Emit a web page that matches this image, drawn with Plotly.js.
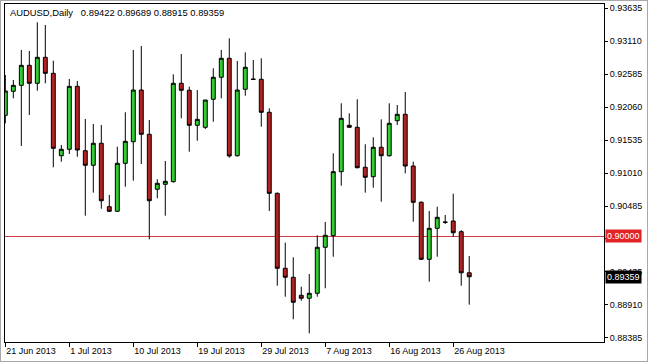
<!DOCTYPE html>
<html>
<head>
<meta charset="utf-8">
<script src="https://cdn.plot.ly/plotly-3.0.1.min.js"></script>
<style>
  html, body { margin: 0; padding: 0; background: #ffffff; }
  #wrap { position: relative; width: 648px; height: 362px; overflow: hidden; }
  #chart { width: 648px; height: 362px; }
  #frame { position: absolute; left: 0; top: 0; width: 646px; height: 360px;
           border: 1px solid #a8a8a8; pointer-events: none; }
</style>
</head>
<body>
<div id="wrap"><div id="chart"></div><div id="frame"></div></div>
<script>
const symbol = 'AUDUSD,Daily';

const dates = [
  '2013-06-21','2013-06-23','2013-06-24','2013-06-25','2013-06-26','2013-06-27','2013-06-28','2013-06-30',
  '2013-07-01','2013-07-02','2013-07-03','2013-07-04','2013-07-05','2013-07-07','2013-07-08','2013-07-09',
  '2013-07-10','2013-07-11','2013-07-12','2013-07-14','2013-07-15','2013-07-16','2013-07-17','2013-07-18',
  '2013-07-19','2013-07-21','2013-07-22','2013-07-23','2013-07-24','2013-07-25','2013-07-26','2013-07-28',
  '2013-07-29','2013-07-30','2013-07-31','2013-08-01','2013-08-02','2013-08-04','2013-08-05','2013-08-06',
  '2013-08-07','2013-08-08','2013-08-09','2013-08-11','2013-08-12','2013-08-13','2013-08-14','2013-08-15',
  '2013-08-16','2013-08-18','2013-08-19','2013-08-20','2013-08-21','2013-08-22','2013-08-23','2013-08-25',
  '2013-08-26','2013-08-27','2013-08-28'
];

const openP = [
  0.91928,0.92310,0.92405,0.92723,0.92437,0.92851,0.92596,0.91285,
  0.91387,0.92389,0.91365,0.91133,0.91483,0.90474,0.90401,0.91164,
  0.91508,0.92330,0.91626,0.90751,0.90830,0.90872,0.92437,0.92326,
  0.91769,0.91737,0.92183,0.92533,0.92835,0.91285,0.92342,0.92505,
  0.92501,0.91976,0.90687,0.89494,0.89351,0.89064,0.89017,0.89096,
  0.89828,0.90013,0.91031,0.91769,0.91737,0.91101,0.90951,0.91419,
  0.91285,0.91842,0.91944,0.91121,0.90544,0.89637,0.90130,0.90231,
  0.90246,0.90076,0.89422
];

const highP = [
  0.92569,0.92490,0.92967,0.92951,0.93408,0.93365,0.92797,0.91456,
  0.92505,0.92474,0.91869,0.91790,0.91774,0.90660,0.91428,0.91976,
  0.92967,0.93031,0.91853,0.90910,0.91201,0.92580,0.92903,0.92383,
  0.92330,0.92171,0.92676,0.92967,0.93153,0.92792,0.92930,0.92808,
  0.92835,0.92039,0.90700,0.89901,0.89669,0.89201,0.89403,0.90019,
  0.90231,0.91323,0.92119,0.91960,0.92183,0.91467,0.91578,0.91864,
  0.92119,0.92092,0.92299,0.91190,0.90560,0.90406,0.90474,0.90342,
  0.90681,0.90100,0.89689
];

const lowP = [
  0.91801,0.92198,0.91440,0.91933,0.92319,0.92437,0.91101,0.91190,
  0.91312,0.91269,0.90331,0.90697,0.90442,0.90390,0.90390,0.90792,
  0.90888,0.91153,0.89955,0.90608,0.90331,0.90856,0.91880,0.91349,
  0.91524,0.91710,0.91826,0.92198,0.91253,0.91270,0.92240,0.92490,
  0.91747,0.90406,0.89217,0.89042,0.88683,0.88978,0.88460,0.89042,
  0.89176,0.89678,0.90808,0.91730,0.91085,0.90697,0.90776,0.90553,
  0.91270,0.91774,0.91005,0.90235,0.89626,0.89281,0.89678,0.90199,
  0.89997,0.89217,0.88915
];

const closeP = [
  0.92315,0.92405,0.92723,0.92437,0.92851,0.92596,0.91403,0.91387,
  0.92389,0.91376,0.91133,0.91483,0.90569,0.90401,0.91164,0.91514,
  0.92330,0.91626,0.90569,0.90846,0.90878,0.92437,0.92326,0.91769,
  0.91864,0.92171,0.92533,0.92835,0.91281,0.92330,0.92692,0.92500,
  0.91976,0.90687,0.89494,0.89351,0.88953,0.89017,0.89096,0.89828,
  0.90019,0.91031,0.91880,0.91737,0.91094,0.90942,0.91419,0.91285,
  0.91801,0.91944,0.91121,0.90544,0.89637,0.90130,0.90305,0.90225,
  0.90060,0.89422,0.89359
];

const tickDates = ['2013-06-21','2013-07-01','2013-07-10','2013-07-19','2013-07-29','2013-08-07','2013-08-16','2013-08-26'];
const tickText  = ['21 Jun 2013','1 Jul 2013','10 Jul 2013','19 Jul 2013','29 Jul 2013','7 Aug 2013','16 Aug 2013','26 Aug 2013'];
const priceTicks = [0.88385,0.88910,0.89435,0.89960,0.90485,0.91010,0.91535,0.92060,0.92585,0.93110,0.93635];
const priceTickText = ['0.88385','0.88910','0.89435','','0.90485','0.91010','0.91535','0.92060','0.92585','0.93110','0.93635'];
const levelLine = 0.90000;

const FONT = 'Liberation Sans, Arial, sans-serif';
const n = closeP.length - 1;
const fmt = v => v.toFixed(5);
const titleText = symbol + '\u00a0\u00a0 ' + [openP[n], highP[n], lowP[n], closeP[n]].map(fmt).join(' ');

const trace = {
  type: 'candlestick',
  x: dates, open: openP, high: highP, low: lowP, close: closeP,
  increasing: { line: { color: '#000000', width: 1 }, fillcolor: '#32cd32' },
  decreasing: { line: { color: '#000000', width: 1 }, fillcolor: '#b22222' },
  whiskerwidth: 0,
  hoverinfo: 'skip',
  showlegend: false
};

const layout = {
  width: 648, height: 362,
  margin: { l: 5, r: 44, t: 4, b: 20 },
  paper_bgcolor: '#ffffff', plot_bgcolor: '#ffffff',
  font: { family: FONT, size: 9, color: '#000000' },
  title: { text: titleText, font: { family: FONT, size: 9.4, color: '#000000' },
           xref: 'container', yref: 'container', x: 10/648, xanchor: 'left',
           y: 1 - 13/362, yanchor: 'middle' },
  xaxis: {
    type: 'category', range: [-0.04, 74.85],
    rangeslider: { visible: false },
    tickmode: 'array', tickvals: tickDates, ticktext: tickText,
    ticks: 'outside', ticklen: 4, tickcolor: '#000000', tickwidth: 1,
    ticklabelposition: 'outside right',
    showgrid: false, zeroline: false,
    showline: true, linecolor: '#000000', linewidth: 1, mirror: true,
    tickfont: { family: FONT, size: 9, color: '#000000' }
  },
  yaxis: {
    side: 'right', range: [0.88321, 0.93699],
    tickmode: 'array', tickvals: priceTicks, ticktext: priceTickText,
    ticks: 'outside', ticklen: 3, tickcolor: '#000000', tickwidth: 1,
    showgrid: false, zeroline: false,
    showline: true, linecolor: '#000000', linewidth: 1, mirror: true,
    tickfont: { family: FONT, size: 9, color: '#000000' }
  },
  shapes: [{
    type: 'line', xref: 'paper', x0: 0, x1: 1, yref: 'y', y0: levelLine, y1: levelLine,
    line: { color: '#cc3a44', width: 1 }, layer: 'below'
  }],
  annotations: [
    { xref: 'paper', x: 1, xanchor: 'left', xshift: 1, yref: 'y', y: levelLine, yanchor: 'middle',
      text: fmt(levelLine), showarrow: false, bgcolor: '#e02424', borderpad: 1,
      font: { family: FONT, size: 9, color: '#ffffff' } },
    { xref: 'paper', x: 1, xanchor: 'left', xshift: 1, yref: 'y', y: closeP[n], yanchor: 'middle',
      text: fmt(closeP[n]), showarrow: false, bgcolor: '#000000', borderpad: 1,
      font: { family: FONT, size: 9, color: '#ffffff' } }
  ]
};

Plotly.newPlot('chart', [trace], layout, { staticPlot: true, displayModeBar: false });
</script>
</body>
</html>
